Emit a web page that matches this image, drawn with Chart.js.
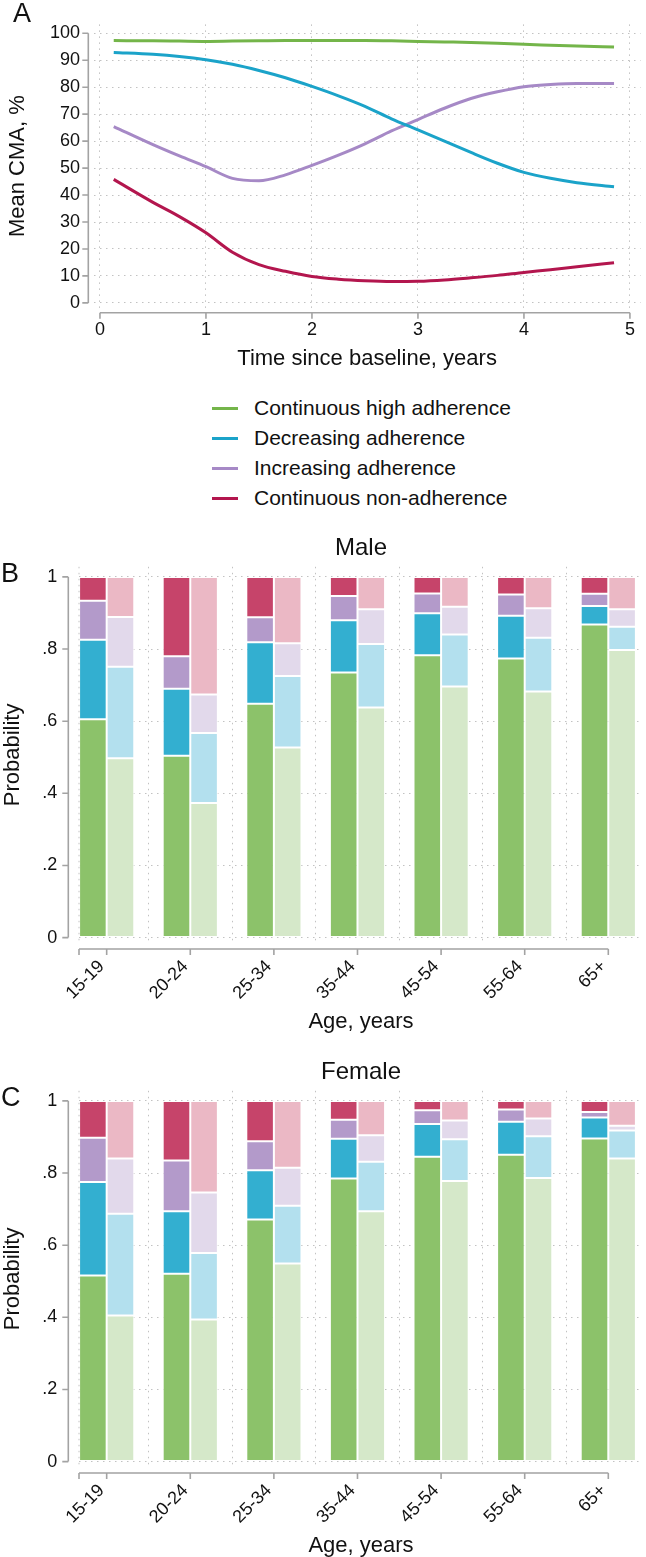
<!DOCTYPE html>
<html>
<head>
<meta charset="utf-8">
<script src="https://cdn.jsdelivr.net/npm/chart.js@4.4.1/dist/chart.umd.min.js"></script>
<style>
  html, body { margin: 0; padding: 0; background: #fff; overflow: hidden; }
  body { width: 646px; height: 1557px; position: relative; font-family: "Liberation Sans", Arial, sans-serif; color: #111; }
  canvas { position: absolute; left: 0; }
  .panel { position: absolute; font-size: 27px; line-height: 1; }
  #legend { position: absolute; left: 212px; top: 393px; font-size: 21px; }
  #legend .row { height: 30px; display: flex; align-items: center; }
  #legend .sw { display: inline-block; width: 26px; height: 3px; margin-right: 16px; }
</style>
</head>
<body>
<canvas id="traj" width="646" height="375" style="top:0"></canvas>
<div id="legend"></div>
<canvas id="male" width="646" height="523" style="top:515px"></canvas>
<canvas id="female" width="646" height="523" style="top:1039px"></canvas>
<div class="panel" style="left:13px;top:0">A</div>
<div class="panel" style="left:1px;top:560px">B</div>
<div class="panel" style="left:1px;top:1084px">C</div>
<script>
// panel A - mean CMA by trajectory group
const years = [0.13, 0.5, 0.75, 1, 1.25, 1.5, 1.75, 2, 2.25, 2.5, 2.75, 3, 3.25, 3.5, 3.75, 4, 4.25, 4.5, 4.85];
const highAdh = [97.3, 97.2, 97.1, 97.0, 97.1, 97.2, 97.3, 97.3, 97.3, 97.3, 97.2, 97.0, 96.8, 96.6, 96.3, 95.9, 95.6, 95.3, 94.9];
const decAdh = [92.9, 92.2, 91.4, 90.2, 88.5, 86.2, 83.5, 80.3, 76.8, 72.9, 68.3, 64.2, 60.0, 55.8, 51.8, 48.4, 46.2, 44.6, 43.1];
const incAdh = [65.4, 58.7, 54.5, 50.5, 46.2, 45.3, 47.5, 51.0, 54.8, 59.0, 63.8, 68.0, 72.2, 75.8, 78.3, 80.2, 81.0, 81.4, 81.4];
const nonAdh = [45.8, 37.3, 32.0, 26.0, 18.8, 14.2, 11.7, 9.8, 8.8, 8.2, 7.9, 8.0, 8.5, 9.3, 10.2, 11.3, 12.3, 13.4, 14.9];
const trajNames = ['Continuous high adherence', 'Decreasing adherence', 'Increasing adherence', 'Continuous non-adherence'];
const yearTicks = [0, 1, 2, 3, 4, 5];
const cmaTicks = [0, 10, 20, 30, 40, 50, 60, 70, 80, 90, 100];

// panels B and C - predicted probabilities by age group (dark / light bar per group)
const ageGroups = ['15-19', '20-24', '25-34', '35-44', '45-54', '55-64', '65+'];
const probTicks = [0, 0.2, 0.4, 0.6, 0.8, 1];

const maleDarkHigh = [0.605, 0.504, 0.648, 0.735, 0.783, 0.774, 0.868];
const maleDarkDec  = [0.221, 0.186, 0.171, 0.145, 0.116, 0.118, 0.051];
const maleDarkInc  = [0.108, 0.090, 0.069, 0.067, 0.055, 0.059, 0.034];
const maleDarkNon  = [0.066, 0.220, 0.112, 0.053, 0.046, 0.049, 0.047];
const maleLightHigh = [0.497, 0.373, 0.527, 0.638, 0.696, 0.682, 0.797];
const maleLightDec  = [0.254, 0.194, 0.198, 0.176, 0.144, 0.149, 0.065];
const maleLightInc  = [0.138, 0.107, 0.091, 0.096, 0.077, 0.082, 0.048];
const maleLightNon  = [0.111, 0.326, 0.184, 0.090, 0.083, 0.087, 0.090];

const femaleDarkHigh = [0.516, 0.521, 0.671, 0.785, 0.845, 0.851, 0.896];
const femaleDarkDec  = [0.259, 0.173, 0.137, 0.110, 0.091, 0.091, 0.058];
const femaleDarkInc  = [0.123, 0.141, 0.080, 0.053, 0.038, 0.034, 0.015];
const femaleDarkNon  = [0.102, 0.165, 0.112, 0.052, 0.026, 0.024, 0.031];
const femaleLightHigh = [0.405, 0.394, 0.549, 0.694, 0.778, 0.786, 0.840];
const femaleLightDec  = [0.282, 0.184, 0.160, 0.137, 0.116, 0.116, 0.078];
const femaleLightInc  = [0.153, 0.168, 0.106, 0.074, 0.052, 0.049, 0.013];
const femaleLightNon  = [0.160, 0.254, 0.185, 0.095, 0.054, 0.049, 0.069];

const FONT = '"Liberation Sans", Arial, sans-serif';
const INK = '#111';
const GRID = '#c2c2c2';
const AXIS = '#a3a3a3';
const lineColors = ['#74b54a', '#1ba3c9', '#a689c6', '#b3164e'];
const darkColors = ['#8cc26a', '#33afd0', '#b39aca', '#c6446a'];
const lightColors = ['#d5e8c9', '#b3e0ee', '#e2d9eb', '#ebb8c5'];

Chart.defaults.font.family = FONT;
Chart.defaults.color = INK;

// stata-like axes: lines set off from the plot region, only spanning the ticks
const stataAxes = {
  id: 'stataAxes',
  afterDraw(chart, args, opts) {
    const { ctx, chartArea: area, scales: { x, y } } = chart;
    const yPix = y.ticks.map(t => y.getPixelForValue(t.value));
    const xPix = x.ticks.map(t => x.getPixelForValue(t.value));
    if (opts.leftEdge) xPix.unshift(area.left);
    const ax = area.left - opts.yGap;
    const ay = area.bottom + opts.xGap;
    ctx.save();
    ctx.strokeStyle = AXIS;
    ctx.lineWidth = 1.6;
    ctx.beginPath();
    ctx.moveTo(ax, Math.max(...yPix));
    ctx.lineTo(ax, Math.min(...yPix));
    yPix.forEach(p => { ctx.moveTo(ax, p); ctx.lineTo(ax - 6, p); });
    ctx.moveTo(Math.min(...xPix), ay);
    ctx.lineTo(Math.max(...xPix), ay);
    xPix.forEach(p => { ctx.moveTo(p, ay); ctx.lineTo(p, ay + 6); });
    ctx.stroke();
    if (opts.leftEdge) {
      ctx.strokeStyle = GRID;
      ctx.lineWidth = 1;
      ctx.setLineDash([1.5, 4.5]);
      ctx.beginPath();
      ctx.moveTo(area.left, area.top);
      ctx.lineTo(area.left, area.bottom);
      ctx.stroke();
    }
    ctx.restore();
  }
};

const tickFont = { size: 18 };
const titleFont = { size: 22 };

const trajChart = new Chart(document.getElementById('traj'), {
  type: 'line',
  data: {
    datasets: [highAdh, decAdh, incAdh, nonAdh].map((vals, i) => ({
      label: trajNames[i],
      data: years.map((t, j) => ({ x: t, y: vals[j] })),
      borderColor: lineColors[i],
      backgroundColor: lineColors[i],
      borderWidth: 3,
      pointRadius: 0,
      cubicInterpolationMode: 'monotone',
      fill: false
    }))
  },
  options: {
    responsive: false,
    animation: false,
    devicePixelRatio: 1,
    layout: { padding: { top: 2, right: 3, left: 0, bottom: 0 } },
    plugins: {
      legend: { display: false },
      tooltip: { enabled: false },
      stataAxes: { yGap: 5.3, xGap: 4.7 }
    },
    scales: {
      x: {
        type: 'linear', min: -0.06, max: 5.1,
        afterBuildTicks: s => { s.ticks = yearTicks.map(v => ({ value: v })); },
        afterFit: s => { s.height = 67; },
        ticks: { font: tickFont, padding: 11, maxRotation: 0 },
        grid: { color: GRID, drawTicks: false },
        border: { display: false, dash: [1.5, 4.5] },
        title: { display: true, text: 'Time since baseline, years', font: titleFont, padding: { top: 0, bottom: 2.4 } }
      },
      y: {
        min: -1.9, max: 103.3,
        afterBuildTicks: s => { s.ticks = cmaTicks.map(v => ({ value: v })); },
        afterFit: s => { s.width = 93.6; },
        ticks: { font: tickFont, padding: 13.6 },
        grid: { color: GRID, drawTicks: false },
        border: { display: false, dash: [1.5, 4.5] },
        title: { display: true, text: 'Mean CMA, %', font: titleFont, padding: { top: 5, bottom: 0 } }
      }
    }
  },
  plugins: [stataAxes]
});

// legend for panel A, built from the chart's datasets
const legendBox = document.getElementById('legend');
trajChart.data.datasets.forEach(ds => {
  const row = document.createElement('div');
  row.className = 'row';
  const sw = document.createElement('span');
  sw.className = 'sw';
  sw.style.background = ds.borderColor;
  row.appendChild(sw);
  row.appendChild(document.createTextNode(ds.label));
  legendBox.appendChild(row);
});

function fmtProb(v) {
  if (v === 0) return '0';
  if (v === 1) return '1';
  return v.toFixed(1).replace(/^0/, '');
}

function barChart(id, title, dark, light) {
  const sets = [];
  dark.forEach((vals, i) => sets.push({
    label: trajNames[i] + ' (dark)', stack: 'dark',
    data: vals.map((v, j) => ({ x: j, y: v })),
    backgroundColor: darkColors[i]
  }));
  light.forEach((vals, i) => sets.push({
    label: trajNames[i] + ' (light)', stack: 'light',
    data: vals.map((v, j) => ({ x: j, y: v })),
    backgroundColor: lightColors[i]
  }));
  sets.forEach(s => {
    s.borderColor = '#fff';
    s.borderWidth = 1;
    s.borderSkipped = false;
    s.categoryPercentage = 0.66;
    s.barPercentage = 1;
  });
  return new Chart(document.getElementById(id), {
    type: 'bar',
    data: { datasets: sets },
    options: {
      responsive: false,
      animation: false,
      devicePixelRatio: 1,
      layout: { padding: { top: 0, right: 3, left: 0, bottom: 0 } },
      plugins: {
        legend: { display: false },
        tooltip: { enabled: false },
        title: {
          display: true, text: title, fullSize: false, color: INK,
          font: { size: 24, weight: 'normal' },
          padding: { top: 19, bottom: 4 }
        },
        stataAxes: { yGap: 10.7, xGap: 6, leftEdge: true }
      },
      scales: {
        x: {
          type: 'linear', stacked: true, min: -0.331, max: 6.415, offset: false,
          afterBuildTicks: s => { s.ticks = ageGroups.map((_, i) => ({ value: i })); },
          afterFit: s => { s.height = 95; },
          ticks: { font: tickFont, callback: v => ageGroups[v], minRotation: 45, maxRotation: 45, padding: 13, labelOffset: -5 },
          grid: { color: GRID, drawTicks: false },
          border: { display: false, dash: [1.5, 4.5] },
          title: { display: true, text: 'Age, years', font: titleFont, padding: { top: 0, bottom: 2.8 } }
        },
        y: {
          stacked: true, min: -0.015, max: 1.028,
          afterBuildTicks: s => { s.ticks = probTicks.map(v => ({ value: v })); },
          afterFit: s => { s.width = 79; },
          ticks: { font: tickFont, padding: 21.7, callback: v => fmtProb(v) },
          grid: { color: GRID, drawTicks: false },
          border: { display: false, dash: [1.5, 4.5] },
          title: { display: true, text: 'Probability', font: titleFont, padding: { top: 0, bottom: 0 } }
        }
      }
    },
    plugins: [stataAxes]
  });
}

barChart('male', 'Male',
  [maleDarkHigh, maleDarkDec, maleDarkInc, maleDarkNon],
  [maleLightHigh, maleLightDec, maleLightInc, maleLightNon]);
barChart('female', 'Female',
  [femaleDarkHigh, femaleDarkDec, femaleDarkInc, femaleDarkNon],
  [femaleLightHigh, femaleLightDec, femaleLightInc, femaleLightNon]);
</script>
</body>
</html>
